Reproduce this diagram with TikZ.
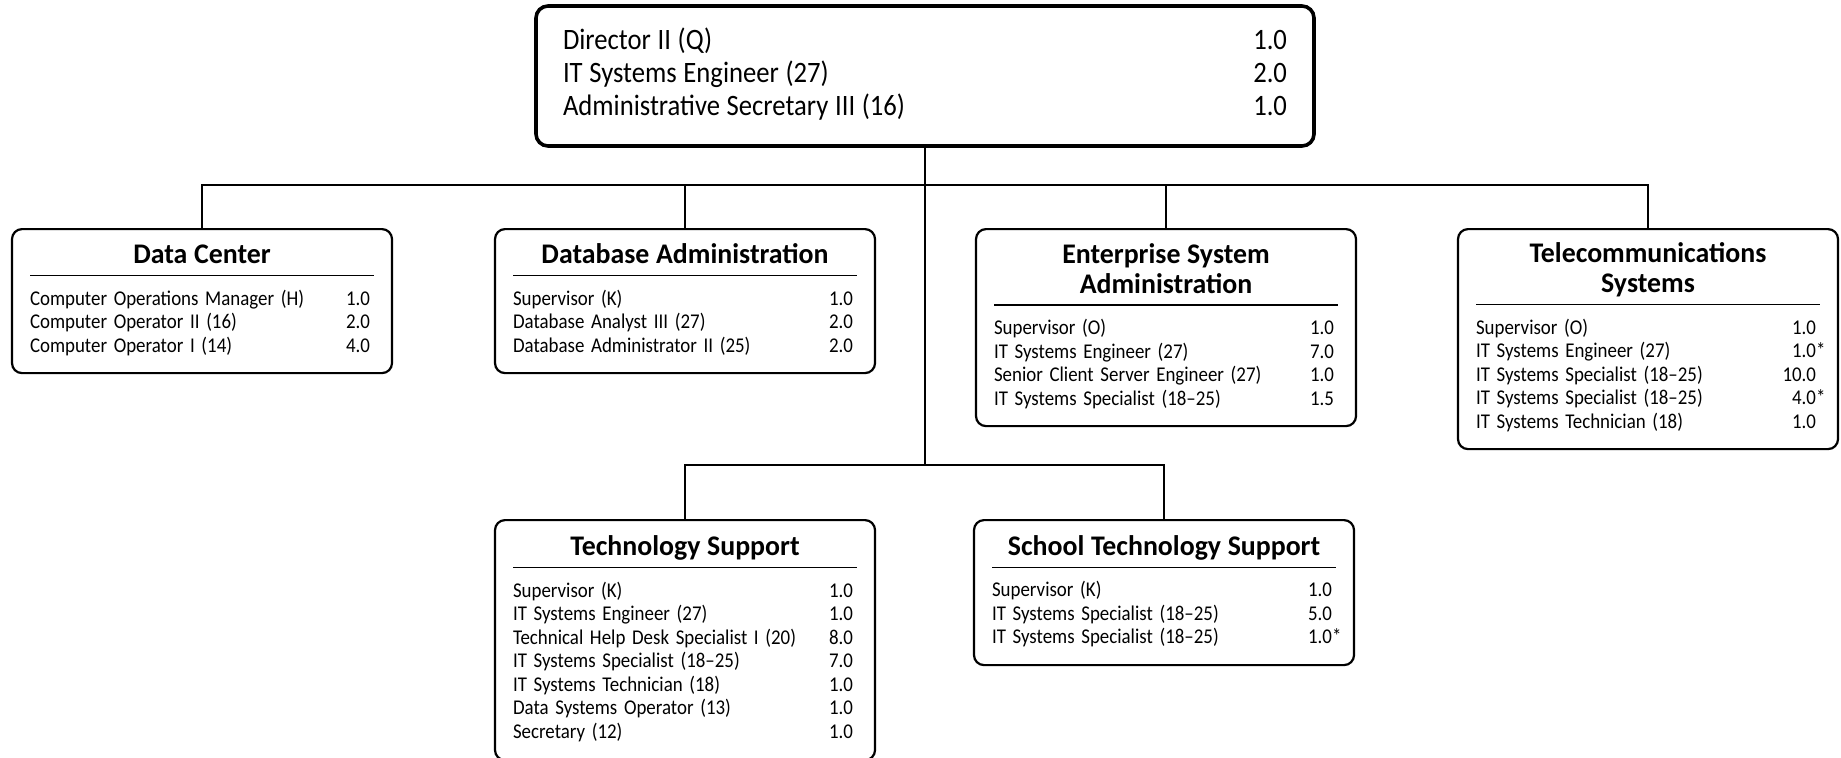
\documentclass[tikz,border=0pt]{standalone}
\usepackage{fontspec}
\setmainfont{Carlito}
\newfontfamily\bodyfont{Carlito}[FakeStretch=0.9]
\newfontfamily\headfont{Carlito}[FakeStretch=0.98]
\usepackage{array}
\usetikzlibrary{positioning}

% unit title with rule under it
\newcommand{\unithead}[1]{{\headfont\bfseries\fontsize{14.2}{15}\selectfont #1\strut\par}%
  \vskip 1.2pt\hrule height .6pt\vskip 6.2pt}
\newenvironment{posts}{\noindent\bodyfont\fontsize{10.5}{11.75}\selectfont
  \begin{tabular*}{\linewidth}{@{}l@{\extracolsep{\fill}}r@{\hspace{2pt}}}}{\end{tabular*}}
\newcommand{\st}{\rlap{*}}

\begin{document}
\begin{tikzpicture}[x=0.5pt,y=-0.5pt,every node/.style={inner sep=0pt},
  headbox/.style={draw,line width=1.8pt,rounded corners=6pt,minimum width=389pt,
    minimum height=70pt,text width=362pt,align=left},
  unit/.style={draw,line width=1.1pt,rounded corners=5pt,anchor=north,
    minimum width=190pt,text width=172pt,align=center},
  link/.style={line width=1pt}]
\useasboundingbox (0,0) rectangle (1841,757);

\node[headbox] (dir) at (925,76) {\noindent\bodyfont\fontsize{14.8}{16.6}\selectfont
  \begin{tabular*}{\linewidth}{@{}l@{\extracolsep{\fill}}r@{}}
  Director II (Q) & 1.0\\
  IT Systems Engineer (27) & 2.0\\
  Administrative Secretary III (16) & 1.0
  \end{tabular*}};

\node[unit,minimum height=72pt] (dc) at (202,228) {\unithead{Data Center}
  \begin{posts}
  Computer Operations Manager (H) & 1.0\\
  Computer Operator II (16) & 2.0\\
  Computer Operator I (14) & 4.0
  \end{posts}};
\node[unit,minimum height=72pt] (dba) at (685,228) {\unithead{Database Administration}
  \begin{posts}
  Supervisor (K) & 1.0\\
  Database Analyst III (27) & 2.0\\
  Database Administrator II (25) & 2.0
  \end{posts}};
\node[unit,minimum height=98.5pt] (esa) at (1166,228) {\unithead{Enterprise System\\Administration}
  \begin{posts}
  Supervisor (O) & 1.0\\
  IT Systems Engineer (27) & 7.0\\
  Senior Client Server Engineer (27) & 1.0\\
  IT Systems Specialist (18–25) & 1.5
  \end{posts}};
\node[unit,minimum height=110pt] (tel) at (1648,228) {\unithead{Telecommunications\\Systems}
  \begin{posts}
  Supervisor (O) & 1.0\\
  IT Systems Engineer (27) & 1.0\st\\
  IT Systems Specialist (18–25) & 10.0\\
  IT Systems Specialist (18–25) & 4.0\st\\
  IT Systems Technician (18) & 1.0
  \end{posts}};

\node[unit,minimum height=120pt] (ts) at (685,519) {\unithead{Technology Support}
  \begin{posts}
  Supervisor (K) & 1.0\\
  IT Systems Engineer (27) & 1.0\\
  Technical Help Desk Specialist I (20) & 8.0\\
  IT Systems Specialist (18–25) & 7.0\\
  IT Systems Technician (18) & 1.0\\
  Data Systems Operator (13) & 1.0\\
  Secretary (12) & 1.0
  \end{posts}};
\node[unit,minimum height=72.5pt] (sts) at (1164,519) {\unithead{School Technology Support}
  \begin{posts}
  Supervisor (K) & 1.0\\
  IT Systems Specialist (18–25) & 5.0\\
  IT Systems Specialist (18–25) & 1.0\st
  \end{posts}};

% connectors
\coordinate (bus) at (dir.south |- 0,185);
\coordinate (lowbus) at (dir.south |- 0,465);
\draw[link] (dir.south) -- (lowbus);
\draw[link] (dc.north) |- (bus) -| (tel.north);
\draw[link] (dba.north) -- (dba.north |- bus);
\draw[link] (esa.north) -- (esa.north |- bus);
\draw[link] (ts.north) |- (lowbus) -| (sts.north);
\end{tikzpicture}
\end{document}
